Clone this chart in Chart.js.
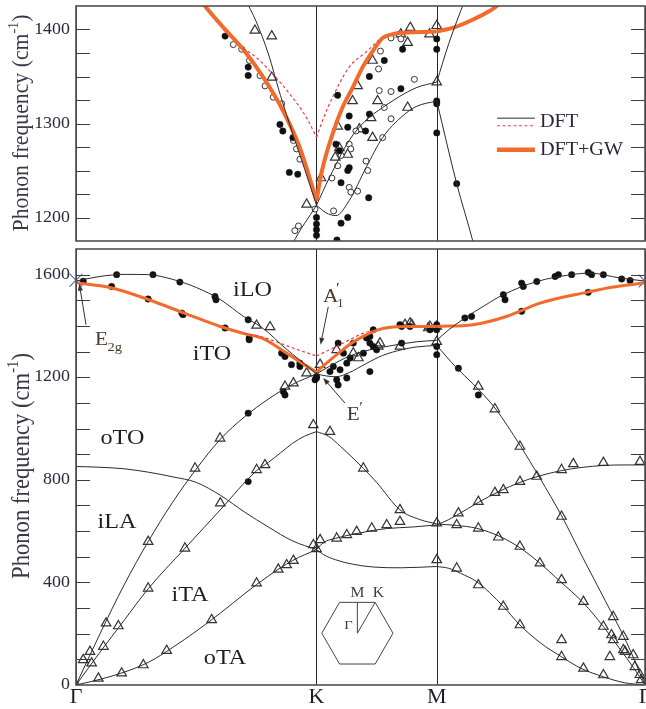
<!DOCTYPE html>
<html><head><meta charset="utf-8">
<script src="https://cdn.jsdelivr.net/npm/chart.js@4/dist/chart.umd.min.js"></script>
<style>
html,body{margin:0;padding:0;background:#fff;}
#wrap{position:relative;width:646px;height:709px;overflow:hidden;}
canvas{position:absolute;left:0;}
#c1{top:0;} #c2{top:245px;}
</style></head><body>
<div id="wrap"><canvas id="c1" width="646" height="247"></canvas><canvas id="c2" width="646" height="464"></canvas></div>
<script>
const kTicks = [0, 1, 1.5, 2.366];
const kLabels = ['Γ', 'K', 'M', 'Γ'];
const mainRange = [0, 1700];
const mainMinorStep = 100;
const mainLabelStep = 400;
const zoomRange = [1175, 1425];
const zoomMinorStep = 25;
const zoomLabelStep = 100;

const bandZA = [[0,0],[0.1,22],[0.2,50],[0.3,88],[0.4,145],[0.5,210],[0.6,280],[0.7,355],[0.8,425],[0.9,485],[1,528],[1.03,508],[1.08,488],[1.15,471],[1.236,460],[1.35,457],[1.5,462],[1.55,455],[1.6,435],[1.666,403],[1.72,360],[1.777,306],[1.846,234],[1.93,165],[2.019,110],[2.1,65],[2.193,32],[2.28,9],[2.366,0]];
const bandZO = [[0,852],[0.1,849],[0.2,843],[0.3,830],[0.4,812],[0.5,790],[0.6,740],[0.7,675],[0.8,616],[0.9,562],[1,528],[1.03,556],[1.08,572],[1.153,588],[1.22,600],[1.292,610],[1.4,616],[1.5,624],[1.55,645],[1.583,662],[1.673,712],[1.76,755],[1.846,790],[1.93,816],[2.019,836],[2.1,848],[2.193,856],[2.28,858],[2.366,858]];
const bandTA = [[0,0],[0.1,128],[0.2,252],[0.3,375],[0.45,530],[0.6,683],[0.75,835],[0.8,868],[0.85,905],[0.9,942],[0.95,970],[1,988],[1.05,970],[1.1,930],[1.195,845],[1.25,790],[1.347,683],[1.43,645],[1.5,628],[1.583,622],[1.666,611],[1.763,579],[1.846,535],[1.929,475],[2.012,405],[2.11,320],[2.193,228],[2.262,140],[2.32,65],[2.366,0]];
const bandLA = [[0,0],[0.1,200],[0.2,390],[0.3,559],[0.4,710],[0.5,842],[0.6,958],[0.7,1045],[0.8,1115],[0.9,1172],[1,1213],[1.04,1205],[1.081,1202],[1.136,1218],[1.206,1253],[1.275,1285],[1.358,1308],[1.414,1318],[1.5,1324],[1.583,1236],[1.65,1175],[1.742,1080],[1.846,935],[1.93,805],[2.019,660],[2.11,492],[2.2,330],[2.29,165],[2.366,0]];
const bandLO = [[0,1575],[0.1,1593],[0.2,1601],[0.3,1600],[0.4,1582],[0.5,1550],[0.6,1503],[0.7,1435],[0.75,1408],[0.8,1374],[0.85,1330],[0.9,1290],[0.95,1252],[1,1213],[1.053,1242],[1.136,1282],[1.2,1302],[1.275,1317],[1.414,1338],[1.5,1344],[1.55,1385],[1.617,1431],[1.7,1480],[1.777,1522],[1.916,1573],[2.061,1600],[2.137,1606],[2.262,1587],[2.366,1575]];
const dftTOmain = [[0.7,1370],[0.78,1355],[0.848,1333],[0.92,1308],[1,1283],[1.05,1305],[1.098,1327],[1.15,1352],[1.195,1372],[1.25,1385]];
const dftTOzoom = [[0.695,1380],[0.751,1370],[0.82,1352],[0.89,1331],[0.959,1306],[1,1285],[1.025,1303],[1.067,1328],[1.136,1360],[1.206,1376],[1.26,1389]];
const gwTOmain = [[0,1568],[0.15,1548],[0.3,1503],[0.45,1450],[0.6,1398],[0.7,1370],[0.78,1350],[0.876,1294],[0.94,1255],[1,1220],[1.05,1262],[1.1,1300],[1.15,1335],[1.2,1362],[1.25,1383],[1.3,1394],[1.4,1398],[1.5,1398],[1.65,1405],[1.79,1437],[1.93,1489],[2.123,1531],[2.234,1552],[2.366,1568]];
const gwTOzoom = [[0.5,1437],[0.536,1425],[0.613,1402],[0.695,1379],[0.779,1349],[0.862,1313],[0.931,1274],[1,1218],[1.023,1250],[1.067,1289],[1.108,1317],[1.15,1338],[1.192,1360],[1.234,1377],[1.275,1391],[1.317,1395],[1.4,1397],[1.5,1398],[1.57,1402],[1.638,1409],[1.708,1418],[1.749,1425],[1.8,1440]];

const expFilledMain = [[0.03,1574],[0.148,1554],[0.169,1600],[0.3,1505],[0.32,1600],[0.432,1571],[0.44,1450],[0.445,1444],[0.578,1515],[0.582,1502],[0.62,1392],[0.716,1424],[0.72,1353],[0.72,1346],[0.855,1294],[0.869,1281],[0.896,1249],[0.931,1255],[0.931,1242],[0.994,1190],[1,1203],[1,1197],[0.862,1144],[0.869,1131],[0.716,1060],[0.716,793],[1.056,1222],[1.07,1242],[1.098,1229],[1.126,1197],[1.126,1255],[1.084,1190],[1.09,1170],[1.222,1222],[1.112,1294],[1.14,1275],[1.195,1294],[1.208,1353],[1.222,1333],[1.236,1320],[1.25,1307],[1.153,1333],[1.222,1359],[1.236,1385],[1.347,1405],[1.354,1333],[1.354,1398],[1.389,1398],[1.472,1385],[1.09,1333],[1.5,1405],[1.5,1385],[1.5,1320],[1.5,1288],[1.59,1235],[1.617,1431],[1.645,1437],[1.673,1131],[1.777,1522],[1.784,1502],[1.853,1567],[1.86,1554],[1.853,1457],[1.916,1573],[1.992,1593],[2.006,1600],[2.061,1600],[2.13,1609],[2.144,1600],[2.13,1531],[2.193,1600],[2.269,1583],[2.304,1577]];
const expTriMain = [[0,0],[0.03,98],[0.058,130],[0.065,85],[0.093,26],[0.114,150],[0.125,241],[0.176,230],[0.19,46],[0.28,78],[0.3,559],[0.3,377],[0.377,134],[0.453,533],[0.495,845],[0.564,254],[0.599,962],[0.6,709],[0.751,397],[0.751,839],[0.786,858],[0.841,451],[0.876,468],[0.904,485],[0.987,546],[1,531],[1.015,566],[0.751,1402],[0.807,1396],[0.869,1164],[0.904,1177],[0.959,1216],[0.987,1014],[1.015,1249],[1.084,1307],[1.153,1294],[1.174,1275],[1.257,1320],[1.264,1333],[1.347,1320],[1.368,1405],[1.396,1405],[1.389,1411],[1.465,1392],[1.472,1398],[1.5,1339],[1.5,1398],[1.056,988],[1.195,845],[1.084,572],[1.126,585],[1.167,598],[1.23,611],[1.292,624],[1.347,637],[1.347,683],[1.5,631],[1.5,488],[1.583,455],[1.583,624],[1.59,670],[1.673,1164],[1.742,1076],[1.846,930],[1.673,715],[1.742,750],[1.777,761],[1.846,793],[1.916,813],[2.019,839],[2.068,862],[2.193,867],[2.345,871],[2.019,657],[2.11,325],[2.234,266],[2.276,189],[2.283,130],[2.317,117],[2.324,71],[1.673,611],[1.756,576],[1.846,540],[1.929,475],[2.019,410],[2.193,228],[2.227,195],[2.234,176],[2.276,137],[2.22,110],[2.019,176],[1.673,390],[1.777,306],[1.846,234],[2.019,110],[2.11,65],[2.193,39],[2.345,40],[2.35,20]];
const expFilledZoom = [[0.62,1393],[0.716,1360],[0.716,1351],[0.848,1299],[0.86,1292],[0.887,1248],[0.922,1246],[0.902,1285],[1,1200],[1,1193],[1,1187],[1,1181],[1.088,1330],[1.136,1308],[1.13,1296],[1.081,1278],[1.095,1271],[1.136,1253],[1.13,1250],[1.102,1237],[1.102,1194],[1.13,1200],[1.085,1176],[1.217,1221],[1.22,1310],[1.22,1350],[1.282,1367],[1.204,1292],[1.351,1337],[1.358,1379],[1.5,1290],[1.5,1321],[1.5,1324],[1.5,1390],[1.5,1379],[1.583,1236]];
const expOpenZoom = [[0.654,1384],[0.689,1379],[0.721,1367],[0.765,1351],[0.786,1340],[0.82,1328],[0.855,1321],[0.904,1282],[0.917,1273],[0.931,1262],[0.91,1186],[0.925,1191],[0.994,1209],[1.261,1335],[1.31,1334],[1.407,1347],[1.282,1317],[1.31,1305],[1.275,1285],[1.206,1260],[1.213,1250],[1.164,1292],[1.136,1278],[1.143,1273],[1.102,1266],[1.088,1255],[1.064,1242],[1.136,1232],[1.143,1227],[1.171,1228],[1.071,1207],[1.258,1358],[1.266,1377],[1.344,1395],[1.351,1390],[1.31,1391]];
const expTriZoom = [[0.744,1399],[0.814,1393],[0.814,1349],[0.959,1214],[1.019,1242],[1.088,1297],[1.15,1324],[1.227,1306],[1.254,1324],[1.233,1285],[1.178,1294],[1.095,1274],[1.13,1267],[1.078,1264],[1.233,1367],[1.171,1340],[1.379,1386],[1.39,1402],[1.351,1395],[1.379,1317],[1.47,1395],[1.5,1404],[1.5,1344]];
const e2gMarks = [[0,1578],[2.366,1575]];

const SERIF = '"Liberation Serif", "Times New Roman", serif';
Chart.defaults.font.family = SERIF;
Chart.defaults.animation = false;

function toPts(a){ return a.map(p => ({x:p[0], y:p[1]})); }
function splitPath(arr){
  const out = [];
  for (let i = 0; i < kTicks.length - 1; i++){
    const a = kTicks[i], b = kTicks[i+1];
    const s = arr.filter(p => p[0] >= a - 1e-9 && p[0] <= b + 1e-9);
    if (s.length > 1) out.push(toPts(s));
  }
  return out;
}
function lineSets(arr, style){
  return splitPath(arr).map(s => Object.assign({data:s, showLine:true, pointRadius:0, pointHoverRadius:0, fill:false, cubicInterpolationMode:'monotone'}, style));
}
const BLACK = {borderColor:'#2b2b2b', borderWidth:1};
const RED = {borderColor:'#e8404a', borderWidth:1.2, borderDash:[3,2.5]};
function orange(w){ return {borderColor:'#f26a2c', borderWidth:w}; }
function filledSet(a){ return {data:toPts(a), pointStyle:'circle', pointRadius:3.2, backgroundColor:'#111', borderColor:'#111', pointBorderWidth:0.5}; }
function openSet(a){ return {data:toPts(a), pointStyle:'circle', pointRadius:3, backgroundColor:'#fff', borderColor:'#333', pointBorderWidth:1}; }
function triSet(a){ return {data:toPts(a), pointStyle:'triangle', pointRadius:5.5, backgroundColor:'rgba(255,255,255,0)', borderColor:'#333', pointBorderWidth:1.2}; }
function xSet(a){ return {data:toPts(a), pointStyle:'crossRot', pointRadius:9, backgroundColor:'#5568b8', borderColor:'#5568b8', pointBorderWidth:1.2, clip:false}; }

function txt(ctx, s, x, y, size, o){
  o = o || {};
  ctx.save(); ctx.translate(x, y); ctx.scale(o.sx || 1.12, 1);
  ctx.font = size + 'px ' + SERIF; ctx.fillStyle = o.color || '#1e1e1e';
  ctx.textAlign = o.align || 'left'; ctx.textBaseline = o.base || 'alphabetic';
  ctx.fillText(s, 0, 0); ctx.restore();
}
function arrow(ctx, x1, y1, x2, y2, color){
  const ang = Math.atan2(y2 - y1, x2 - x1), L = 7, W = 2.6;
  ctx.save(); ctx.strokeStyle = color; ctx.fillStyle = color; ctx.lineWidth = 1;
  ctx.beginPath(); ctx.moveTo(x1, y1); ctx.lineTo(x2 - Math.cos(ang)*L*0.6, y2 - Math.sin(ang)*L*0.6); ctx.stroke();
  ctx.beginPath(); ctx.moveTo(x2, y2);
  ctx.lineTo(x2 - Math.cos(ang)*L - Math.sin(ang)*W, y2 - Math.sin(ang)*L + Math.cos(ang)*W);
  ctx.lineTo(x2 - Math.cos(ang)*L + Math.sin(ang)*W, y2 - Math.sin(ang)*L - Math.cos(ang)*W);
  ctx.closePath(); ctx.fill(); ctx.restore();
}
function yTitle(ctx, cx, cy, len){
  ctx.save(); ctx.translate(cx, cy); ctx.rotate(-Math.PI/2); ctx.scale(1, 1.1);
  const a = 'Phonon frequency (cm', sup = '-1', b = ')';
  ctx.font = '20px ' + SERIF;
  let w0 = ctx.measureText(a).width + ctx.measureText(b).width + 0.65*ctx.measureText(sup).width;
  const size = 20 * len / w0;
  const big = size + 'px ' + SERIF, small = (size*0.65) + 'px ' + SERIF;
  ctx.font = big; const wa = ctx.measureText(a).width, wb = ctx.measureText(b).width;
  ctx.font = small; const ws = ctx.measureText(sup).width;
  let x = -(wa + ws + wb)/2;
  ctx.fillStyle = '#3a3648'; ctx.textBaseline = 'middle'; ctx.textAlign = 'left';
  ctx.font = big; ctx.fillText(a, x, 0); x += wa;
  ctx.font = small; ctx.fillText(sup, x, -size*0.32); x += ws;
  ctx.font = big; ctx.fillText(b, x, 0);
  ctx.restore();
}
// k-path axis: vertical lines at the high-symmetry points and their labels, placed by the x scale
function kAxisPlugin(showLabels){
  return {
    id: 'kAxis',
    beforeDatasetsDraw(chart){
      const {ctx, chartArea: a, scales: {x}} = chart;
      ctx.save(); ctx.strokeStyle = '#262626'; ctx.lineWidth = 1;
      kTicks.forEach(v => { const px = Math.round(x.getPixelForValue(v)) + 0.5; ctx.beginPath(); ctx.moveTo(px, a.top); ctx.lineTo(px, a.bottom); ctx.stroke(); });
      ctx.restore();
    },
    afterDraw(chart){
      if (!showLabels) return;
      const {ctx, chartArea: a, scales: {x}} = chart;
      kTicks.forEach((v, i) => txt(ctx, kLabels[i], x.getPixelForValue(v), a.bottom + 13, 20, {align: 'center', base: 'middle', color: '#1e1e2a', sx: 1.1}));
    }
  };
}
// frame, inward tick marks on both sides and tick labels, placed by the y scale
function framePlugin(range, minorStep, labelStep){
  return {
    id: 'frameTicks',
    afterDatasetsDraw(chart){
      const {ctx, chartArea: a, scales: {y}} = chart;
      ctx.save(); ctx.strokeStyle = '#3c3c3c'; ctx.lineWidth = 1;
      for (let v = range[0] + minorStep; v < range[1] - 1e-6; v += minorStep){
        const py = Math.round(y.getPixelForValue(v)) + 0.5;
        ctx.beginPath(); ctx.moveTo(a.left, py); ctx.lineTo(a.left + 14, py);
        ctx.moveTo(a.right - 14, py); ctx.lineTo(a.right, py); ctx.stroke();
      }
      ctx.lineWidth = 1.6; ctx.strokeStyle = '#505050';
      ctx.strokeRect(a.left, a.top, a.right - a.left, a.bottom - a.top);
      ctx.restore();
      for (let v = range[0]; v <= range[1]; v += minorStep){
        if (v % labelStep !== 0) continue;
        txt(ctx, String(v), a.left - 6, y.getPixelForValue(v), 16, {align: 'right', base: 'middle', color: '#2a2a3a', sx: 1.12});
      }
    }
  };
}
function scalesCfg(range){
  return {
    x: { type: 'linear', display: false, min: kTicks[0], max: kTicks[kTicks.length-1] },
    y: { type: 'linear', display: false, min: range[0], max: range[1] }
  };
}

const zoomSets = [].concat(
  [bandZA, bandZO, bandTA, bandLA, bandLO].flatMap(b => lineSets(b, BLACK)),
  lineSets(dftTOzoom, RED),
  lineSets(gwTOzoom, orange(4)),
  [filledSet(expFilledZoom), openSet(expOpenZoom), triSet(expTriZoom)]
);
new Chart(document.getElementById('c1'), {
  type: 'scatter',
  data: { datasets: zoomSets },
  options: {
    responsive: false, animation: false, events: [],
    layout: { autoPadding: false, padding: { left: 76, right: 1, top: 6, bottom: 6 } },
    plugins: { legend: {display: false}, tooltip: {enabled: false} },
    scales: scalesCfg(zoomRange)
  },
  plugins: [kAxisPlugin(false), framePlugin(zoomRange, zoomMinorStep, zoomLabelStep), {
    id: 'zoomDeco',
    afterDraw(chart){
      const {ctx, scales: {x, y}} = chart;
      yTitle(ctx, 22, 123, 217);
      const x1 = x.getPixelForValue(1.7505), x2 = x.getPixelForValue(1.9085), tx = x.getPixelForValue(1.929);
      const yB = y.getPixelForValue(1305.7), yR = y.getPixelForValue(1297.6), yO = y.getPixelForValue(1272);
      ctx.save();
      ctx.strokeStyle = '#2b2b2b'; ctx.lineWidth = 1; ctx.beginPath(); ctx.moveTo(x1, yB); ctx.lineTo(x2, yB); ctx.stroke();
      ctx.strokeStyle = '#e8404a'; ctx.lineWidth = 1.2; ctx.setLineDash([3,2.5]); ctx.beginPath(); ctx.moveTo(x1, yR); ctx.lineTo(x2, yR); ctx.stroke();
      ctx.setLineDash([]); ctx.strokeStyle = '#f26a2c'; ctx.lineWidth = 4.5; ctx.beginPath(); ctx.moveTo(x1, yO); ctx.lineTo(x2, yO); ctx.stroke();
      ctx.restore();
      txt(ctx, 'DFT', tx, (yB + yR)/2, 18, {base: 'middle', color: '#2e2436'});
      txt(ctx, 'DFT+GW', tx, yO, 18, {base: 'middle', color: '#2e2436'});
    }
  }]
});

const mainSets = [].concat(
  [bandZA, bandZO, bandTA, bandLA, bandLO].flatMap(b => lineSets(b, BLACK)),
  lineSets(dftTOmain, RED),
  lineSets(gwTOmain, orange(3)),
  [filledSet(expFilledMain), triSet(expTriMain), xSet(e2gMarks)]
);
new Chart(document.getElementById('c2'), {
  type: 'scatter',
  data: { datasets: mainSets },
  options: {
    responsive: false, animation: false, events: [],
    layout: { autoPadding: false, padding: { left: 76, right: 1, top: 4, bottom: 24 } },
    plugins: { legend: {display: false}, tooltip: {enabled: false} },
    scales: scalesCfg(mainRange)
  },
  plugins: [kAxisPlugin(true), framePlugin(mainRange, mainMinorStep, mainLabelStep), {
    id: 'mainDeco',
    afterDraw(chart){
      const {ctx, scales: {x, y}} = chart;
      const P = (a, b) => [x.getPixelForValue(a), y.getPixelForValue(b)];
      yTitle(ctx, 22, 221, 226);
      const branch = [['iLO',0.734,1539],['iTO',0.5655,1287],['oTO',0.193,962],['iLA',0.17,634],['iTA',0.474,349],['oTA',0.6195,103]];
      branch.forEach(([s, a, b]) => { const [px, py] = P(a, b); txt(ctx, s, px, py, 21, {align: 'center', base: 'middle', sx: 1.15}); });
      const lc = '#4b3a2e';
      let [ex, ey] = P(0.079, 1326.6);
      txt(ctx, 'E', ex, ey, 19, {color: lc}); txt(ctx, '2g', ex + 12.5, ey + 6, 13, {color: lc});
      let [a1x, a1y] = P(0.0416, 1404.6), [a2x, a2y] = P(0.0137, 1564.6);
      arrow(ctx, a1x, a1y, a2x, a2y, '#333');
      [ex, ey] = P(1.027, 1494);
      txt(ctx, 'A', ex, ey, 19, {color: lc}); txt(ctx, '′', ex + 13, ey - 9, 15, {color: lc}); txt(ctx, '1', ex + 14, ey + 5, 12, {color: lc});
      [a1x, a1y] = P(1.049, 1475); [a2x, a2y] = P(1.017, 1326.6);
      arrow(ctx, a1x, a1y, a2x, a2y, '#333');
      [ex, ey] = P(1.1256, 1034);
      txt(ctx, 'E', ex, ey, 19, {color: lc}); txt(ctx, '′', ex + 12.5, ey - 8, 15, {color: lc});
      [a1x, a1y] = P(1.1185, 1099); [a2x, a2y] = P(1.028, 1197);
      arrow(ctx, a1x, a1y, a2x, a2y, '#333');
      const [cx, cy] = P(1.17, 202), R = 35.6;
      ctx.save(); ctx.strokeStyle = '#444'; ctx.lineWidth = 1; ctx.beginPath();
      for (let i = 0; i <= 6; i++){ const t = i*Math.PI/3; const px = cx + R*Math.cos(t), py = cy - R*Math.sin(t); i ? ctx.lineTo(px, py) : ctx.moveTo(px, py); }
      ctx.stroke();
      ctx.beginPath(); ctx.moveTo(cx, cy); ctx.lineTo(cx, cy - R*Math.sqrt(3)/2);
      ctx.moveTo(cx, cy); ctx.lineTo(cx + R/2, cy - R*Math.sqrt(3)/2); ctx.stroke(); ctx.restore();
      txt(ctx, 'M', cx, cy - 40, 14, {align: 'center', base: 'middle', color: '#3e3a50'});
      txt(ctx, 'K', cx + 21, cy - 40, 14, {align: 'center', base: 'middle', color: '#3e3a50'});
      txt(ctx, 'Γ', cx - 9, cy - 8, 13, {align: 'center', base: 'middle', color: '#3e3a50'});
    }
  }]
});
</script>
</body></html>
